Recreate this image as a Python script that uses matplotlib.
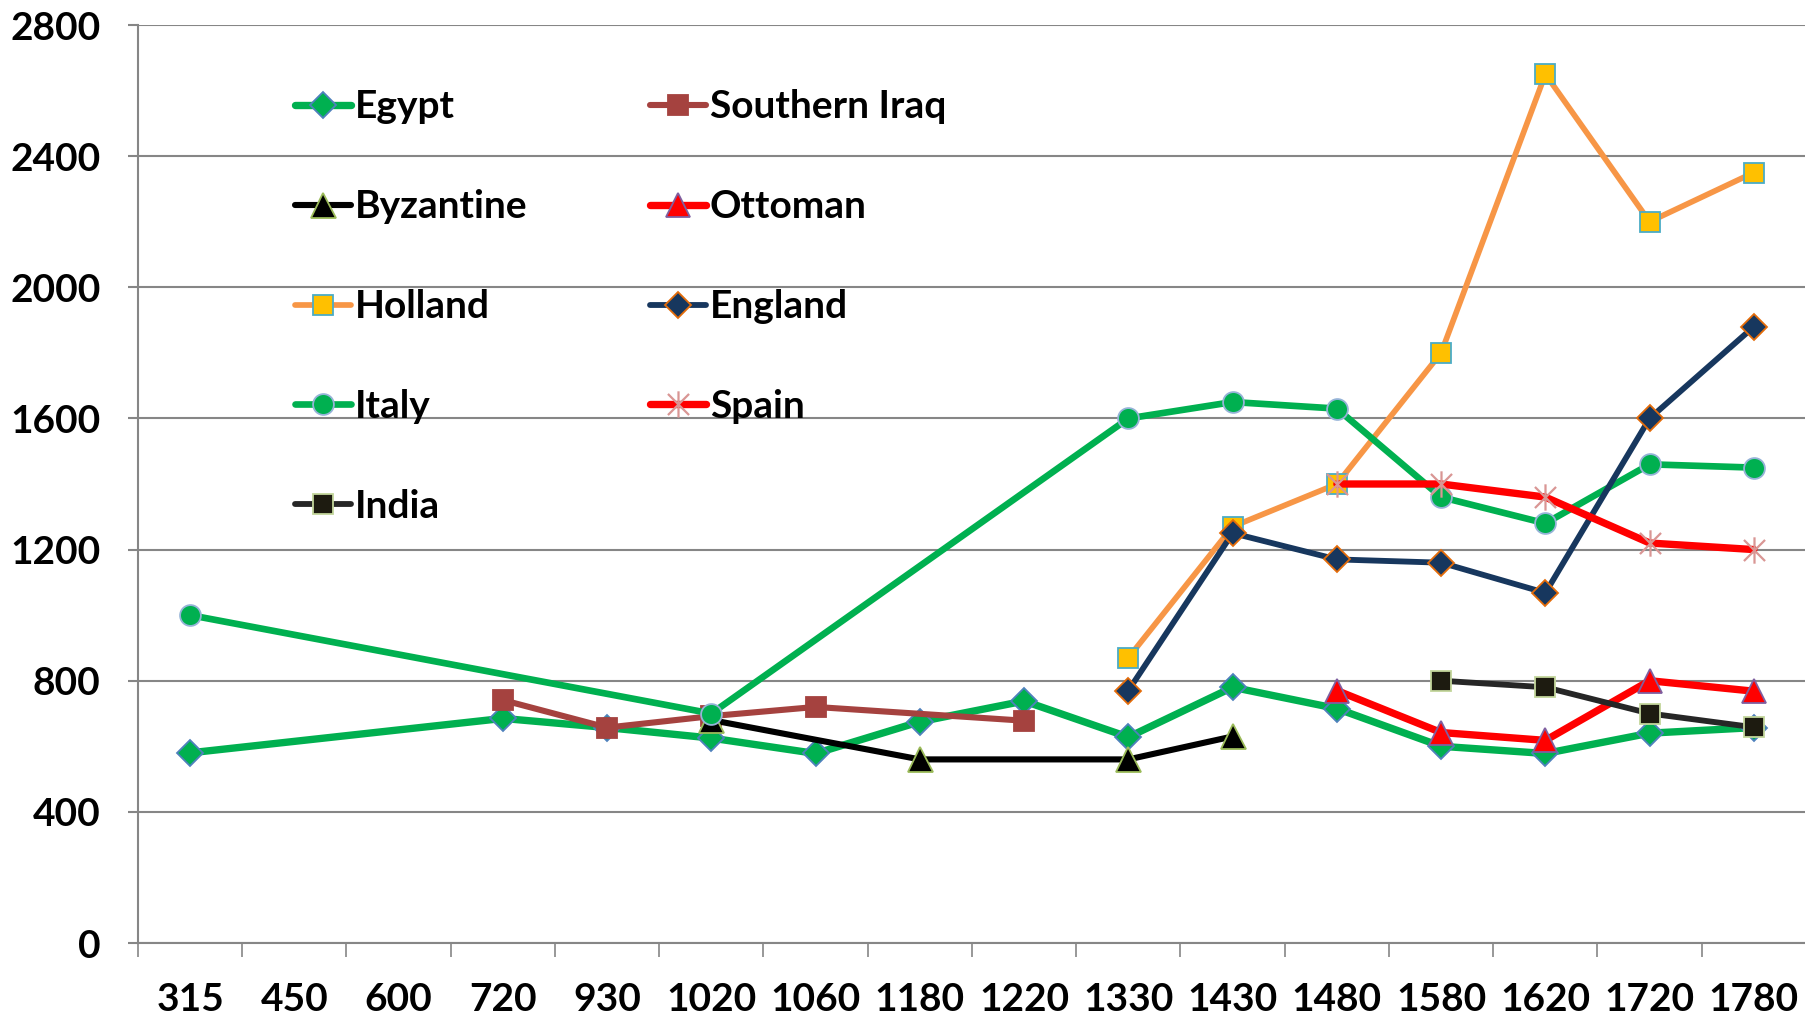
import numpy as np
import matplotlib
matplotlib.use('Agg')
import matplotlib.pyplot as plt
from matplotlib.path import Path

plt.rcParams['font.family'] = ['Lato', 'DejaVu Sans']
plt.rcParams['font.weight'] = 'bold'

nan = np.nan
years = ['315', '450', '600', '720', '930', '1020', '1060', '1180',
         '1220', '1330', '1430', '1480', '1580', '1620', '1720', '1780']

egypt = [580, nan, nan, 685, 657, 625, 578, 675, 738, 628, 780, 715, 600, 578, 640, 657]
southern_iraq = [nan, nan, nan, 741, 657, 692, 720, nan, 678, nan, nan, nan, nan, nan, nan, nan]
byzantine = [nan, nan, nan, nan, nan, 680, nan, 560, nan, 560, 630, nan, nan, nan, nan, nan]
ottoman = [nan] * 11 + [770, 642, 618, 800, 768]
holland = [nan] * 9 + [870, 1270, 1400, 1800, 2650, 2200, 2350]
england = [nan] * 9 + [770, 1250, 1170, 1160, 1068, 1600, 1880]
italy = [1000, nan, nan, nan, nan, 700, nan, nan, nan, 1600, 1650, 1630, 1360, 1280, 1460, 1450]
spain = [nan] * 11 + [1400, 1400, 1360, 1220, 1200]
india = [nan] * 12 + [800, 780, 700, 658]

# asterisk marker like the Excel "star"
star = Path([(0, -1), (0, 1), (-0.8, -0.8), (0.8, 0.8), (-0.8, 0.8), (0.8, -0.8)],
            [Path.MOVETO, Path.LINETO, Path.MOVETO, Path.LINETO, Path.MOVETO, Path.LINETO])

series = [
    # name, values, line colour, lw, marker, ms, face, edge
    ('Egypt', egypt, '#00B050', 5.3, 'D', 13, '#00B050', '#4F81BD'),
    ('Southern Iraq', southern_iraq, '#A5423F', 4.4, 's', 14, '#A5423F', '#A5423F'),
    ('Byzantine', byzantine, '#000000', 4.4, '^', 18, '#000000', '#9BBB59'),
    ('Ottoman', ottoman, '#FF0000', 5.3, '^', 17, '#FF0000', '#7F5FA0'),
    ('Holland', holland, '#F79646', 4.1, 's', 14, '#FFC000', '#4BACC6'),
    ('Italy', italy, '#00B050', 4.8, 'o', 15, '#00B050', '#95B3D7'),
    ('England', england, '#17375E', 4.2, 'D', 13, '#17375E', '#E46C0A'),
    ('Spain', spain, '#FF0000', 5.3, star, 19, 'none', '#D99694'),
    ('India', india, '#262626', 4.2, 's', 14, '#1D1B10', '#C3D69B'),
]

fig = plt.figure(figsize=(18.06, 10.18), dpi=100)
ax = fig.add_axes([138 / 1806, 75 / 1018, 1668 / 1806, 918 / 1018])

x = np.arange(len(years))
handles = {}
for name, vals, col, lw, mk, ms, fc, ec in series:
    v = np.array(vals, dtype=float)
    ok = ~np.isnan(v)
    mew = 1.6 if mk is star else 1.3
    h, = ax.plot(x[ok], v[ok], color=col, lw=lw, marker=mk, ms=ms,
                 markerfacecolor=fc, markeredgecolor=ec, markeredgewidth=mew,
                 solid_capstyle='round', label=name)
    handles[name] = h

ax.set_xlim(-0.5, len(years) - 0.5)
ax.set_ylim(0, 2800)
ax.set_yticks(range(0, 2801, 400))
ax.set_xticks(x)
ax.set_xticklabels(years)
ax.set_xticks(np.arange(-0.5, len(years), 1), minor=True)

grid_col = '#868686'
ax.grid(axis='y', color=grid_col, lw=1.5)
ax.set_axisbelow(True)
for s in ['top', 'right']:
    ax.spines[s].set_visible(False)
for s in ['left', 'bottom']:
    ax.spines[s].set_color(grid_col)
    ax.spines[s].set_linewidth(1.5)

ax.tick_params(axis='x', which='major', length=0, pad=28, labelsize=28)
ax.tick_params(axis='x', which='minor', length=10, width=1.2, color=grid_col)
ax.tick_params(axis='y', length=7, width=1.5, color=grid_col, pad=20, labelsize=28)
for lab in ax.get_xticklabels() + ax.get_yticklabels():
    lab.set_fontweight('bold')

order = ['Egypt', 'Byzantine', 'Holland', 'Italy', 'India',
         'Southern Iraq', 'Ottoman', 'England', 'Spain']
leg = ax.legend([handles[n] for n in order], order, ncol=2, loc='upper left',
                bbox_to_anchor=(0.094, 0.93), frameon=False, borderpad=0,
                borderaxespad=0, handlelength=1.44,
                handletextpad=0.1, labelspacing=1.67, columnspacing=3.15,
                prop={'weight': 'bold', 'size': 28})

fig.savefig('out.png', dpi=100, facecolor='white')
